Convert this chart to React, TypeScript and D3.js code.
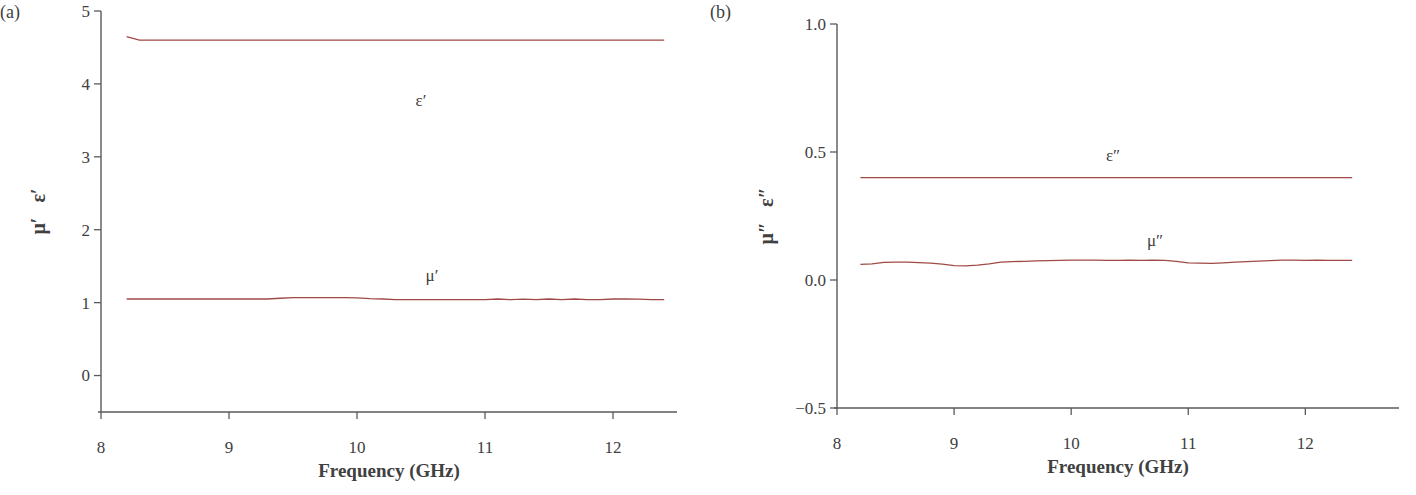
import React from "react";
import * as d3 from "d3";

// frequencies (GHz) shared by every trace
const freq = [
  8.2, 8.3, 8.4, 8.5, 8.6, 8.7, 8.8, 8.9, 9.0, 9.1, 9.2, 9.3, 9.4, 9.5, 9.6,
  9.7, 9.8, 9.9, 10.0, 10.1, 10.2, 10.3, 10.4, 10.5, 10.6, 10.7, 10.8, 10.9,
  11.0, 11.1, 11.2, 11.3, 11.4, 11.5, 11.6, 11.7, 11.8, 11.9, 12.0, 12.1, 12.2,
  12.3, 12.4,
];

// panel (a): real parts
const epsReal = [
  4.65, 4.6, 4.6, 4.6, 4.6, 4.6, 4.6, 4.6, 4.6, 4.6, 4.6, 4.6, 4.6, 4.6, 4.6,
  4.6, 4.6, 4.6, 4.6, 4.6, 4.6, 4.6, 4.6, 4.6, 4.6, 4.6, 4.6, 4.6, 4.6, 4.6,
  4.6, 4.6, 4.6, 4.6, 4.6, 4.6, 4.6, 4.6, 4.6, 4.6, 4.6, 4.6, 4.6,
];
const muReal = [
  1.05, 1.05, 1.05, 1.05, 1.05, 1.05, 1.05, 1.05, 1.05, 1.05, 1.05, 1.05, 1.06,
  1.07, 1.07, 1.07, 1.07, 1.07, 1.065, 1.055, 1.05, 1.04, 1.04, 1.04, 1.04,
  1.04, 1.04, 1.04, 1.04, 1.05, 1.04, 1.048, 1.04, 1.05, 1.04, 1.05, 1.04,
  1.042, 1.05, 1.05, 1.048, 1.04, 1.04,
];

// panel (b): imaginary parts
const epsImag = [
  0.4, 0.4, 0.4, 0.4, 0.4, 0.4, 0.4, 0.4, 0.4, 0.4, 0.4, 0.4, 0.4, 0.4, 0.4,
  0.4, 0.4, 0.4, 0.4, 0.4, 0.4, 0.4, 0.4, 0.4, 0.4, 0.4, 0.4, 0.4, 0.4, 0.4,
  0.4, 0.4, 0.4, 0.4, 0.4, 0.4, 0.4, 0.4, 0.4, 0.4, 0.4, 0.4, 0.4,
];
const muImag = [
  0.061, 0.063, 0.069, 0.07, 0.07, 0.068, 0.066, 0.062, 0.056, 0.055, 0.058,
  0.063, 0.07, 0.072, 0.073, 0.075, 0.076, 0.077, 0.078, 0.078, 0.078, 0.077,
  0.077, 0.078, 0.077, 0.078, 0.077, 0.073, 0.067, 0.066, 0.065, 0.067, 0.07,
  0.072, 0.074, 0.076, 0.078, 0.078, 0.077, 0.078, 0.077, 0.077, 0.077,
];

const xTicks = [8, 9, 10, 11, 12];
const yTicksA = [0, 1, 2, 3, 4, 5];
const yTicksB = [-0.5, 0.0, 0.5, 1.0];

const FONT = "'Liberation Serif', 'DejaVu Serif', serif";
const TEXT = "#404040";
const AXIS = "#5a5a5a";
const LINE = "#a04a46";

type Trace = { values: number[]; label: string; lx: number; ly: number };

function Panel(props: {
  tag: string;
  tagX: number;
  x: d3.ScaleLinear<number, number>;
  y: d3.ScaleLinear<number, number>;
  yTicks: number[];
  fmt: (v: number) => string;
  yLabel: string;
  yLabelX: number;
  traces: Trace[];
}) {
  const { x, y } = props;
  const [x0, x1] = x.range();
  const [y0, y1] = y.range();
  const line = d3
    .line<number>()
    .x((_, i) => x(freq[i]))
    .y((d) => y(d));
  return (
    <g fontFamily={FONT} fill={TEXT}>
      <text x={props.tagX} y={18} fontSize={18}>
        {props.tag}
      </text>
      {/* y axis */}
      <line x1={x0} x2={x0} y1={y1} y2={y0} stroke={AXIS} strokeWidth={1.4} />
      {props.yTicks.map((t) => (
        <g key={t}>
          <line x1={x0 - 7} x2={x0} y1={y(t)} y2={y(t)} stroke={AXIS} strokeWidth={1.3} />
          <text x={x0 - 11} y={y(t)} dy="0.35em" textAnchor="end" fontSize={17}>
            {props.fmt(t)}
          </text>
        </g>
      ))}
      {/* x axis */}
      <line x1={x0 - 3} x2={x1} y1={y0} y2={y0} stroke={AXIS} strokeWidth={1.4} />
      {xTicks.map((t) => (
        <g key={t}>
          <line x1={x(t)} x2={x(t)} y1={y0} y2={y0 + 7} stroke={AXIS} strokeWidth={1.3} />
          <text x={x(t)} y={y0 + 41} textAnchor="middle" fontSize={17}>
            {t}
          </text>
        </g>
      ))}
      <text
        x={(x0 + x1) / 2}
        y={y0 + 65}
        textAnchor="middle"
        fontSize={19}
        fontWeight="bold"
      >
        Frequency (GHz)
      </text>
      <text
        transform={`translate(${props.yLabelX},${(y0 + y1) / 2}) rotate(-90)`}
        textAnchor="middle"
        fontSize={20}
        fontWeight="bold"
        dy="0.35em"
        xmlSpace="preserve"
      >
        {props.yLabel}
      </text>
      {props.traces.map((tr) => (
        <g key={tr.label}>
          <path d={line(tr.values) || ""} fill="none" stroke={LINE} strokeWidth={1.3} />
          <text x={tr.lx} y={tr.ly} textAnchor="middle" fontSize={17}>
            {tr.label}
          </text>
        </g>
      ))}
    </g>
  );
}

export default function App() {
  const xa = d3.scaleLinear().domain([8, 12.5]).range([101, 677]);
  const ya = d3.scaleLinear().domain([-0.5, 5]).range([412, 11]);
  const xb = d3.scaleLinear().domain([8, 12.8]).range([837, 1399]);
  const yb = d3.scaleLinear().domain([-0.5, 1.0]).range([408, 24]);
  return (
    <div style={{ position: "absolute", left: 0, top: 0 }}>
      <svg width={1416} height={495} style={{ display: "block", background: "#fff" }}>
        <Panel
          tag="(a)"
          tagX={0}
          x={xa}
          y={ya}
          yTicks={yTicksA}
          fmt={(v) => d3.format("d")(v)}
          yLabel={"μ′   ε′"}
          yLabelX={38}
          traces={[
            { values: epsReal, label: "ε′", lx: 421, ly: 106 },
            { values: muReal, label: "μ′", lx: 432, ly: 281 },
          ]}
        />
        <Panel
          tag="(b)"
          tagX={710}
          x={xb}
          y={yb}
          yTicks={yTicksB}
          fmt={(v) => d3.format(".1f")(v).replace("-", "−")}
          yLabel={"μ″   ε″"}
          yLabelX={766}
          traces={[
            { values: epsImag, label: "ε″", lx: 1113, ly: 161 },
            { values: muImag, label: "μ″", lx: 1155, ly: 246 },
          ]}
        />
      </svg>
    </div>
  );
}
